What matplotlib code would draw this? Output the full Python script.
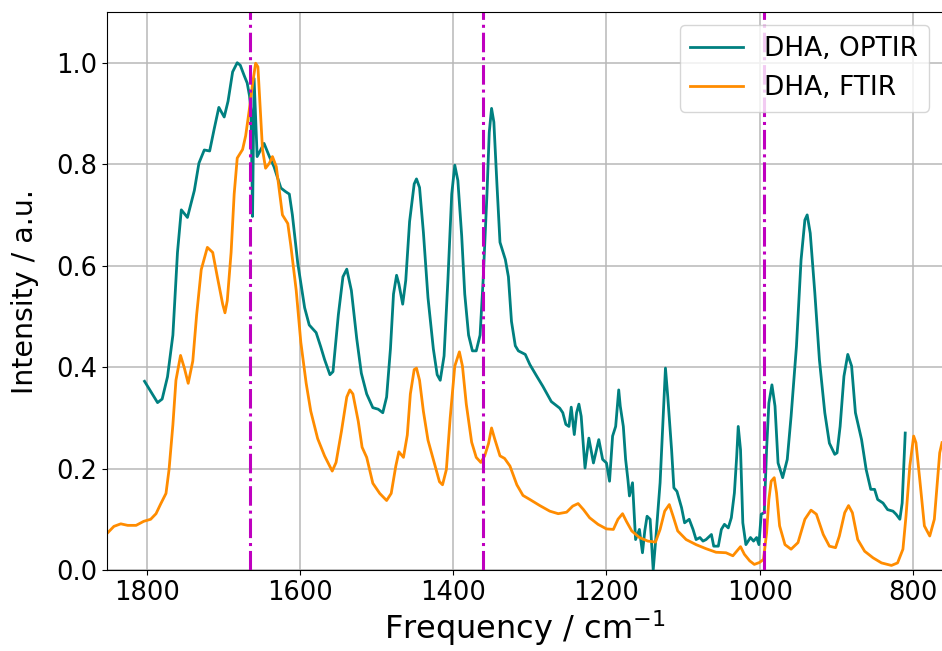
import matplotlib
matplotlib.use("Agg")
import matplotlib.pyplot as plt

# OPTIR spectrum (frequency in cm-1, normalised intensity)
optir_freq = [
    1803, 1786, 1780, 1773, 1766, 1760, 1755, 1747, 1738, 1732, 1725, 1718,
    1712, 1706, 1699, 1694, 1688, 1682, 1678, 1673, 1669, 1666, 1664, 1662,
    1660, 1656, 1647, 1640, 1634, 1625, 1619, 1614, 1610, 1603, 1594, 1588,
    1579, 1573, 1568, 1561, 1557, 1550, 1544, 1539, 1533, 1526, 1520, 1513,
    1505, 1498, 1492, 1487, 1482, 1478, 1474, 1471, 1466, 1462, 1457, 1451,
    1448, 1444, 1439, 1433, 1426, 1421, 1417, 1412, 1407, 1402, 1398, 1394,
    1389, 1385, 1380, 1375, 1370, 1365, 1361, 1356, 1353, 1350, 1347, 1343,
    1339, 1332, 1328, 1324, 1319, 1315, 1306, 1300, 1291, 1283, 1272, 1261,
    1257, 1253, 1249, 1246, 1242, 1239, 1236, 1233, 1228, 1223, 1217, 1210,
    1205, 1200, 1196, 1192, 1188, 1184, 1182, 1178, 1175, 1172, 1170, 1166,
    1162, 1157, 1153, 1150, 1147, 1143, 1139, 1136, 1130, 1126, 1123, 1120,
    1115, 1112, 1108, 1102, 1098, 1092, 1087, 1083, 1078, 1074, 1070, 1063,
    1060, 1054, 1050, 1046, 1041, 1037, 1033, 1030, 1028, 1025, 1022, 1018,
    1012, 1008, 1004, 1001, 998, 994, 991, 988, 984, 980, 976, 970,
    964, 959, 952, 946, 941, 938, 934, 928, 922, 915, 909, 902,
    899, 895, 890, 885, 880, 875, 867, 861, 855, 850, 846, 839,
    833, 826, 822, 817, 814, 810,
]
optir_int = [
    0.372, 0.330, 0.337, 0.381, 0.463, 0.626, 0.710, 0.695, 0.748, 0.802, 0.828, 0.826,
    0.870, 0.912, 0.893, 0.924, 0.982, 1.000, 0.995, 0.975, 0.960, 0.935, 0.905, 0.697,
    0.969, 0.815, 0.841, 0.815, 0.795, 0.753, 0.746, 0.741, 0.700, 0.605, 0.517, 0.483,
    0.468, 0.440, 0.415, 0.385, 0.391, 0.503, 0.578, 0.593, 0.551, 0.456, 0.388, 0.347,
    0.320, 0.317, 0.310, 0.341, 0.436, 0.544, 0.581, 0.564, 0.524, 0.571, 0.687, 0.761,
    0.771, 0.754, 0.666, 0.537, 0.436, 0.385, 0.374, 0.422, 0.571, 0.741, 0.798, 0.768,
    0.659, 0.544, 0.463, 0.432, 0.432, 0.463, 0.571, 0.741, 0.863, 0.910, 0.883, 0.761,
    0.646, 0.612, 0.578, 0.490, 0.442, 0.432, 0.425, 0.405, 0.382, 0.362, 0.332, 0.319,
    0.310, 0.287, 0.283, 0.321, 0.267, 0.310, 0.327, 0.303, 0.201, 0.260, 0.211, 0.257,
    0.218, 0.211, 0.175, 0.264, 0.283, 0.355, 0.323, 0.283, 0.218, 0.178, 0.146, 0.172,
    0.060, 0.080, 0.034, 0.077, 0.106, 0.100, 0.000, 0.054, 0.172, 0.303, 0.398, 0.342,
    0.237, 0.162, 0.155, 0.123, 0.093, 0.100, 0.080, 0.060, 0.064, 0.057, 0.060, 0.070,
    0.047, 0.047, 0.080, 0.090, 0.083, 0.103, 0.152, 0.224, 0.283, 0.237, 0.093, 0.050,
    0.064, 0.057, 0.064, 0.050, 0.110, 0.113, 0.237, 0.329, 0.365, 0.323, 0.211, 0.182,
    0.218, 0.303, 0.441, 0.611, 0.690, 0.700, 0.664, 0.546, 0.414, 0.310, 0.250, 0.228,
    0.231, 0.283, 0.382, 0.425, 0.402, 0.310, 0.257, 0.198, 0.159, 0.159, 0.139, 0.132,
    0.119, 0.116, 0.110, 0.100, 0.132, 0.270,
]

# FTIR spectrum
ftir_freq = [
    1852, 1843, 1834, 1825, 1814, 1804, 1795, 1788, 1782, 1775, 1771, 1766,
    1762, 1756, 1751, 1746, 1740, 1735, 1729, 1721, 1714, 1708, 1701, 1698,
    1695, 1690, 1686, 1682, 1675, 1671, 1666, 1662, 1658, 1655, 1652, 1649,
    1645, 1640, 1636, 1631, 1627, 1623, 1616, 1612, 1605, 1599, 1592, 1586,
    1577, 1568, 1558, 1553, 1546, 1539, 1535, 1531, 1524, 1519, 1513, 1505,
    1496, 1487, 1481, 1475, 1471, 1465, 1460, 1456, 1451, 1448, 1444, 1439,
    1433, 1426, 1418, 1414, 1409, 1404, 1398, 1392, 1388, 1383, 1376, 1370,
    1364, 1359, 1354, 1350, 1346, 1339, 1333, 1326, 1317, 1309, 1300, 1287,
    1274, 1263, 1252, 1244, 1237, 1230, 1222, 1211, 1200, 1191, 1185, 1179,
    1174, 1167, 1157, 1146, 1136, 1130, 1124, 1118, 1113, 1107, 1096, 1083,
    1070, 1057, 1044, 1035, 1030, 1025, 1020, 1013, 1007, 1000, 995, 991,
    988, 985, 981, 978, 974, 967, 959, 950, 941, 933, 926, 917,
    909, 901, 896, 889, 884, 879, 872, 863, 852, 841, 828, 820,
    813, 809, 804, 799, 796, 791, 785, 778, 772, 765, 762,
]
ftir_int = [
    0.072, 0.086, 0.091, 0.088, 0.088, 0.096, 0.100, 0.111, 0.130, 0.151, 0.198, 0.286,
    0.374, 0.423, 0.398, 0.368, 0.412, 0.503, 0.592, 0.636, 0.626, 0.578, 0.524, 0.507,
    0.531, 0.626, 0.741, 0.812, 0.829, 0.856, 0.910, 0.958, 0.999, 0.992, 0.910, 0.829,
    0.792, 0.802, 0.815, 0.795, 0.748, 0.700, 0.683, 0.639, 0.551, 0.449, 0.368, 0.313,
    0.259, 0.225, 0.195, 0.212, 0.273, 0.341, 0.355, 0.347, 0.293, 0.242, 0.222, 0.171,
    0.151, 0.137, 0.151, 0.205, 0.233, 0.222, 0.266, 0.347, 0.395, 0.398, 0.374, 0.313,
    0.256, 0.218, 0.174, 0.168, 0.198, 0.300, 0.402, 0.430, 0.402, 0.327, 0.252, 0.222,
    0.212, 0.225, 0.249, 0.280, 0.259, 0.225, 0.220, 0.205, 0.168, 0.147, 0.139, 0.127,
    0.116, 0.111, 0.114, 0.126, 0.131, 0.119, 0.103, 0.090, 0.081, 0.080, 0.100, 0.111,
    0.096, 0.077, 0.064, 0.057, 0.055, 0.080, 0.116, 0.129, 0.106, 0.077, 0.060, 0.050,
    0.042, 0.035, 0.034, 0.028, 0.037, 0.046, 0.031, 0.018, 0.011, 0.015, 0.021, 0.073,
    0.139, 0.175, 0.182, 0.152, 0.087, 0.050, 0.041, 0.054, 0.100, 0.118, 0.110, 0.070,
    0.047, 0.044, 0.067, 0.113, 0.127, 0.113, 0.060, 0.037, 0.024, 0.014, 0.009, 0.014,
    0.041, 0.106, 0.205, 0.264, 0.251, 0.178, 0.087, 0.067, 0.100, 0.231, 0.251,
]

marker_lines = [1665, 1361, 995]
x_ticks = [1800, 1600, 1400, 1200, 1000, 800]
y_ticks = [0.0, 0.2, 0.4, 0.6, 0.8, 1.0]

plt.rcParams["font.family"] = ["DejaVu Sans"]

fig = plt.figure(figsize=(9.42, 6.51), dpi=100)
ax = fig.add_axes([107 / 942, 81 / 651, 835 / 942, 558 / 651])

ax.plot(optir_freq, optir_int, color="teal", linewidth=2, label="DHA, OPTIR")
ax.plot(ftir_freq, ftir_int, color="darkorange", linewidth=2, label="DHA, FTIR")
for pos in marker_lines:
    ax.axvline(pos, color="m", linestyle="-.", linewidth=2.2)

ax.set_xlim(1852, 762)
ax.set_ylim(0, 1.1)
ax.set_xticks(x_ticks)
ax.set_yticks(y_ticks)
ax.tick_params(labelsize=18.5)
ax.grid(True, color="#b8b8b8", linewidth=1.1)
ax.spines["right"].set_visible(False)

ax.set_xlabel("Frequency / cm$^{-1}$", fontsize=23, labelpad=2)
ax.set_ylabel("Intensity / a.u.", fontsize=20.5, labelpad=12)
ax.legend(loc="upper right", fontsize=19)

fig.savefig("out.png", dpi=100)
